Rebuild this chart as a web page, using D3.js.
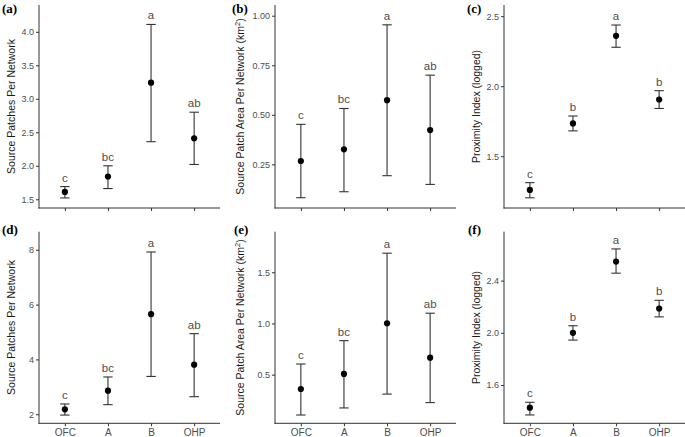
<!DOCTYPE html>
<html>
<head>
<meta charset="utf-8">
<script src="https://cdn.jsdelivr.net/npm/d3@7"></script>
<style>
  html, body { margin: 0; padding: 0; background: #fff; }
  svg { display: block; }
</style>
</head>
<body>
<script>
// ---- data ----
const categories = ["OFC", "A", "B", "OHP"];

const meanA = [1.61, 1.84, 3.24, 2.41];
const loA   = [1.52, 1.66, 2.36, 2.02];
const hiA   = [1.69, 2.00, 4.11, 2.80];
const lettersA = ["c", "bc", "a", "ab"];
const ticksA = [1.5, 2.0, 2.5, 3.0, 3.5, 4.0];

const meanB = [0.267, 0.326, 0.574, 0.423];
const loB   = [0.082, 0.112, 0.193, 0.149];
const hiB   = [0.452, 0.532, 0.954, 0.700];
const lettersB = ["c", "bc", "a", "ab"];
const ticksB = [0.25, 0.50, 0.75, 1.00];

const meanC = [1.259, 1.734, 2.360, 1.905];
const loC   = [1.203, 1.681, 2.278, 1.841];
const hiC   = [1.311, 1.787, 2.437, 1.968];
const lettersC = ["c", "b", "a", "b"];
const ticksC = [1.5, 2.0, 2.5];

const meanD = [2.18, 2.86, 5.65, 3.81];
const loD   = [1.97, 2.35, 3.38, 2.64];
const hiD   = [2.375, 3.36, 7.92, 4.94];
const lettersD = ["c", "bc", "a", "ab"];
const ticksD = [2, 4, 6, 8];

const meanE = [0.360, 0.507, 1.002, 0.666];
const loE   = [0.106, 0.175, 0.310, 0.227];
const hiE   = [0.604, 0.832, 1.686, 1.100];
const lettersE = ["c", "bc", "a", "ab"];
const ticksE = [0.5, 1.0, 1.5];

const meanF = [1.426, 2.000, 2.546, 2.186];
const loF   = [1.370, 1.944, 2.457, 2.122];
const hiF   = [1.467, 2.054, 2.643, 2.249];
const lettersF = ["c", "b", "a", "b"];
const ticksF = [1.6, 2.0, 2.4];

const panelLabels = ["(a)", "(b)", "(c)", "(d)", "(e)", "(f)"];
const titlePatches = "Source Patches Per Network";
const titleArea = "Source Patch Area Per Network (km";
const titleProx = "Proximity Index (logged)";

// ---- layout ----
const W = 685, H = 437;
const svg = d3.select("body").append("svg").attr("width", W).attr("height", H);

const colX = [39, 275, 504];
const rowTop = [5, 231.7];
const rowBottom = [208, 423.3];
const panelW = 181;

const panels = [
  {mean: meanA, lo: loA, hi: hiA, letters: lettersA, ticks: ticksA, fmt: ".1f", dom: [1.37, 4.40], col: 0, row: 0, title: "patches"},
  {mean: meanB, lo: loB, hi: hiB, letters: lettersB, ticks: ticksB, fmt: ".2f", dom: [0.03, 1.054], col: 1, row: 0, title: "area"},
  {mean: meanC, lo: loC, hi: hiC, letters: lettersC, ticks: ticksC, fmt: ".1f", dom: [1.13, 2.58], col: 2, row: 0, title: "prox"},
  {mean: meanD, lo: loD, hi: hiD, letters: lettersD, ticks: ticksD, fmt: "d", dom: [1.67, 8.66], col: 0, row: 1, title: "patches"},
  {mean: meanE, lo: loE, hi: hiE, letters: lettersE, ticks: ticksE, fmt: ".1f", dom: [0.025, 1.896], col: 1, row: 1, title: "area"},
  {mean: meanF, lo: loF, hi: hiF, letters: lettersF, ticks: ticksF, fmt: ".1f", dom: [1.306, 2.775], col: 2, row: 1, title: "prox"}
];

const labelPos = [[2, 13], [232, 13], [467, 13], [2, 234], [234, 234], [468, 234]];
const titleX = [14.5, 244, 480];

const axisColor = "#333333";
const tickTextColor = "#4d4d4d";
const font = "'Liberation Sans', Arimo, Helvetica, sans-serif";

panels.forEach((p, i) => {
  const x0 = colX[p.col];
  const top = rowTop[p.row], bottom = rowBottom[p.row];
  const x = d3.scalePoint().domain(categories).range([x0, x0 + panelW]).padding(0.6);
  const y = d3.scaleLinear().domain(p.dom).range([bottom, top]);

  const g = svg.append("g");

  // y axis
  const yAxis = d3.axisLeft(y).tickValues(p.ticks).tickFormat(d3.format(p.fmt)).tickSize(3).tickPadding(2);
  const ya = g.append("g").attr("transform", `translate(${x0},0)`).call(yAxis);
  ya.select(".domain").remove();
  ya.selectAll(".tick line").attr("stroke", axisColor);
  ya.selectAll(".tick text").attr("fill", tickTextColor).style("font-family", font).style("font-size", "9px");
  g.append("line").attr("x1", x0).attr("x2", x0).attr("y1", top).attr("y2", bottom + 0.5)
    .attr("stroke", axisColor).attr("stroke-width", 1);

  // x axis
  const xAxis = d3.axisBottom(x).tickSize(3).tickPadding(3);
  const xa = g.append("g").attr("transform", `translate(0,${bottom})`).call(xAxis);
  xa.select(".domain").remove();
  xa.selectAll(".tick line").attr("stroke", axisColor);
  if (p.row === 0) {
    xa.selectAll(".tick text").remove();
  } else {
    xa.selectAll(".tick text").attr("fill", tickTextColor).style("font-family", font).style("font-size", "10px");
  }
  g.append("line").attr("x1", x0 - 0.5).attr("x2", x0 + panelW).attr("y1", bottom).attr("y2", bottom)
    .attr("stroke", axisColor).attr("stroke-width", 1);

  // error bars
  const idx = d3.range(categories.length);
  const hw = 4.7;
  const eb = g.append("g").attr("stroke", "#333333").attr("stroke-width", 1.1).attr("fill", "none");
  eb.selectAll("line.v").data(idx).join("line").attr("class", "v")
    .attr("x1", d => x(categories[d])).attr("x2", d => x(categories[d]))
    .attr("y1", d => y(p.lo[d])).attr("y2", d => y(p.hi[d]));
  eb.selectAll("line.t").data(idx).join("line").attr("class", "t")
    .attr("x1", d => x(categories[d]) - hw).attr("x2", d => x(categories[d]) + hw)
    .attr("y1", d => y(p.hi[d])).attr("y2", d => y(p.hi[d]));
  eb.selectAll("line.b").data(idx).join("line").attr("class", "b")
    .attr("x1", d => x(categories[d]) - hw).attr("x2", d => x(categories[d]) + hw)
    .attr("y1", d => y(p.lo[d])).attr("y2", d => y(p.lo[d]));

  // points
  g.selectAll("circle").data(idx).join("circle")
    .attr("cx", d => x(categories[d])).attr("cy", d => y(p.mean[d]))
    .attr("r", 3.1).attr("fill", "#000");

  // letters
  g.selectAll("text.let").data(idx).join("text").attr("class", "let")
    .attr("x", d => x(categories[d])).attr("y", d => y(p.hi[d]) - 5)
    .attr("text-anchor", "middle").attr("fill", "#4d4d4d")
    .style("font-family", font).style("font-size", "11.5px")
    .text(d => p.letters[d]);

  // y title
  const cy = (top + bottom) / 2;
  const t = g.append("text")
    .attr("transform", `translate(${titleX[p.col]},${cy}) rotate(-90)`)
    .attr("text-anchor", "middle").attr("fill", "#1a1a1a")
    .style("font-family", font).style("font-size", "10.5px");
  if (p.title === "patches") t.text(titlePatches);
  else if (p.title === "prox") t.text(titleProx);
  else {
    t.append("tspan").text(titleArea);
    t.append("tspan").attr("dy", -4).style("font-size", "7.5px").text("2");
    t.append("tspan").attr("dy", 4).text(")");
  }

  // panel label
  svg.append("text").attr("x", labelPos[i][0]).attr("y", labelPos[i][1])
    .style("font-family", "'Liberation Serif', 'Times New Roman', serif")
    .style("font-weight", "bold").style("font-size", "13px").attr("fill", "#000")
    .text(panelLabels[i]);
});
</script>
</body>
</html>
